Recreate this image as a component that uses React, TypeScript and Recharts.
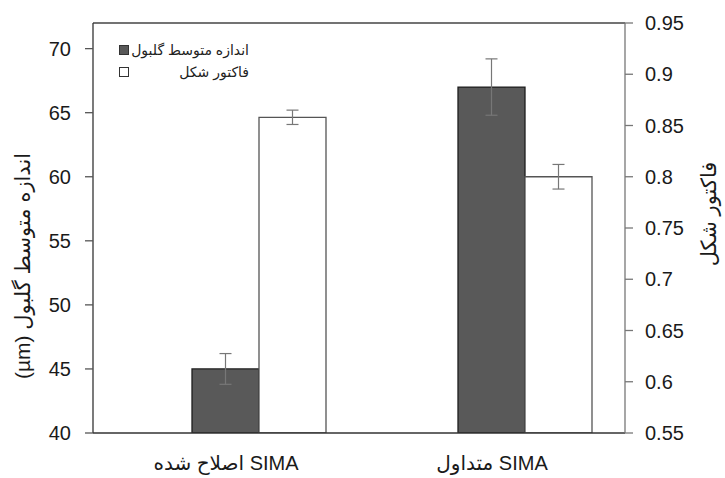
import React from 'react';
import { BarChart, Bar, XAxis, YAxis, ErrorBar, ReferenceLine, Legend } from 'recharts';

const categories = ['SIMA اصلاح شده', 'SIMA متداول'];
const globuleSize = [45, 67];
const globuleSizeErr = [1.2, 2.2];
const shapeFactor = [0.858, 0.8];
const shapeFactorErr = [0.007, 0.012];

const leftTicks = [40, 45, 50, 55, 60, 65, 70];
const rightTicks = [0.55, 0.6, 0.65, 0.7, 0.75, 0.8, 0.85, 0.9, 0.95];
const edgeTicks = [0, 1, 2];

const sizeName = 'اندازه متوسط گلبول';
const shapeName = 'فاکتور شکل';
const leftTitle = 'اندازه متوسط گلبول (µm)';

const data = categories.map((name, i) => ({
  name,
  blank: null,
  size: globuleSize[i],
  sizeErr: globuleSizeErr[i],
  shape: shapeFactor[i],
  shapeErr: shapeFactorErr[i],
}));

// no serif faces in the sandbox, Liberation Sans is the closest fit
const font = '"Liberation Sans", "DejaVu Sans", sans-serif';
const axisColor = '#555';
const tickStyle = { fill: '#1a1a1a', fontSize: 20, fontFamily: font };

const CategoryTick = ({ x, y, payload }: any) => (
  <text
    x={x}
    y={y}
    dy="0.71em"
    textAnchor="middle"
    fill="#1a1a1a"
    fontSize={20}
    style={{ direction: 'rtl', unicodeBidi: 'embed', fontFamily: font }}
  >
    {payload.value}
  </text>
);

const LegendBox = ({ payload }: any) => (
  <div style={{ width: 130, fontFamily: font, fontSize: 14, color: '#222' }}>
    {(payload || [])
      .filter((p: any) => p.type !== 'none' && p.dataKey !== 'blank')
      .map((p: any) => (
        <div key={p.value} style={{ display: 'flex', alignItems: 'center', height: 22 }}>
          <span
            style={{
              width: 8,
              height: 8,
              background: p.color,
              border: '1px solid #333',
              display: 'inline-block',
            }}
          />
          <span style={{ flex: 1, textAlign: 'right', direction: 'rtl' }}>{p.value}</span>
        </div>
      ))}
  </div>
);

const VerticalTitle = (text: string, dx: number, dy: number) => ({ viewBox }: any) => {
  const cx = viewBox.x + dx;
  const cy = viewBox.y + viewBox.height / 2 + dy;
  return (
    <text
      x={cx}
      y={cy}
      textAnchor="middle"
      dominantBaseline="central"
      transform={`rotate(-90, ${cx}, ${cy})`}
      fill="#1a1a1a"
      fontSize={21}
      style={{ direction: 'rtl', unicodeBidi: 'embed', fontFamily: font }}
    >
      {text}
    </text>
  );
};

export default function App() {
  return (
    <div style={{ position: 'absolute', left: 0, top: 0, background: '#fff' }}>
      <BarChart
        width={725}
        height={478}
        data={data}
        margin={{ top: 23, right: 0, bottom: 0, left: 0 }}
        barGap={0}
        barCategoryGap={32}
      >
        <XAxis
          xAxisId={0}
          type="number"
          domain={[0, 2]}
          ticks={edgeTicks}
          allowDataOverflow
          height={1}
          tick={false}
          tickSize={6}
          axisLine={{ stroke: '#333', strokeWidth: 1.3 }}
          tickLine={{ stroke: axisColor, strokeWidth: 1.3 }}
        />
        <XAxis
          xAxisId={1}
          dataKey="name"
          height={44}
          axisLine={false}
          tickLine={false}
          tickMargin={16}
          tick={<CategoryTick />}
        />
        <YAxis
          yAxisId="left"
          width={93}
          domain={[40, 72]}
          ticks={leftTicks}
          allowDataOverflow
          tick={tickStyle}
          tickSize={8}
          tickMargin={14}
          axisLine={{ stroke: '#333', strokeWidth: 1.3 }}
          tickLine={{ stroke: axisColor, strokeWidth: 1.3 }}
          label={{ content: VerticalTitle(leftTitle, 22, 38) }}
        />
        <YAxis
          yAxisId="right"
          orientation="right"
          width={100}
          domain={[0.55, 0.95]}
          ticks={rightTicks}
          allowDataOverflow
          tick={tickStyle}
          tickSize={8}
          tickMargin={12}
          axisLine={{ stroke: '#777', strokeWidth: 1.3 }}
          tickLine={{ stroke: '#777', strokeWidth: 1.3 }}
          label={{ content: VerticalTitle(shapeName, 83, -14) }}
        />
        <ReferenceLine yAxisId="left" xAxisId={1} y={72} stroke="#444" strokeWidth={1.3} />
        <Legend
          layout="horizontal"
          verticalAlign="middle"
          align="center"
          wrapperStyle={{ left: 119, top: 39, width: 130 }}
          content={<LegendBox />}
        />
        <Bar
          xAxisId={1}
          yAxisId="left"
          dataKey="blank"
          fill="transparent"
          legendType="none"
          isAnimationActive={false}
        />
        <Bar
          xAxisId={1}
          yAxisId="left"
          dataKey="size"
          name={sizeName}
          fill="#595959"
          stroke="#1e1e1e"
          strokeWidth={1.3}
          isAnimationActive={false}
        >
          <ErrorBar dataKey="sizeErr" width={6} stroke="#777" strokeWidth={1.2} direction="y" />
        </Bar>
        <Bar
          xAxisId={1}
          yAxisId="right"
          dataKey="shape"
          name={shapeName}
          fill="#ffffff"
          stroke="#555"
          strokeWidth={1.3}
          isAnimationActive={false}
        >
          <ErrorBar dataKey="shapeErr" width={6} stroke="#777" strokeWidth={1.2} direction="y" />
        </Bar>
      </BarChart>
    </div>
  );
}
